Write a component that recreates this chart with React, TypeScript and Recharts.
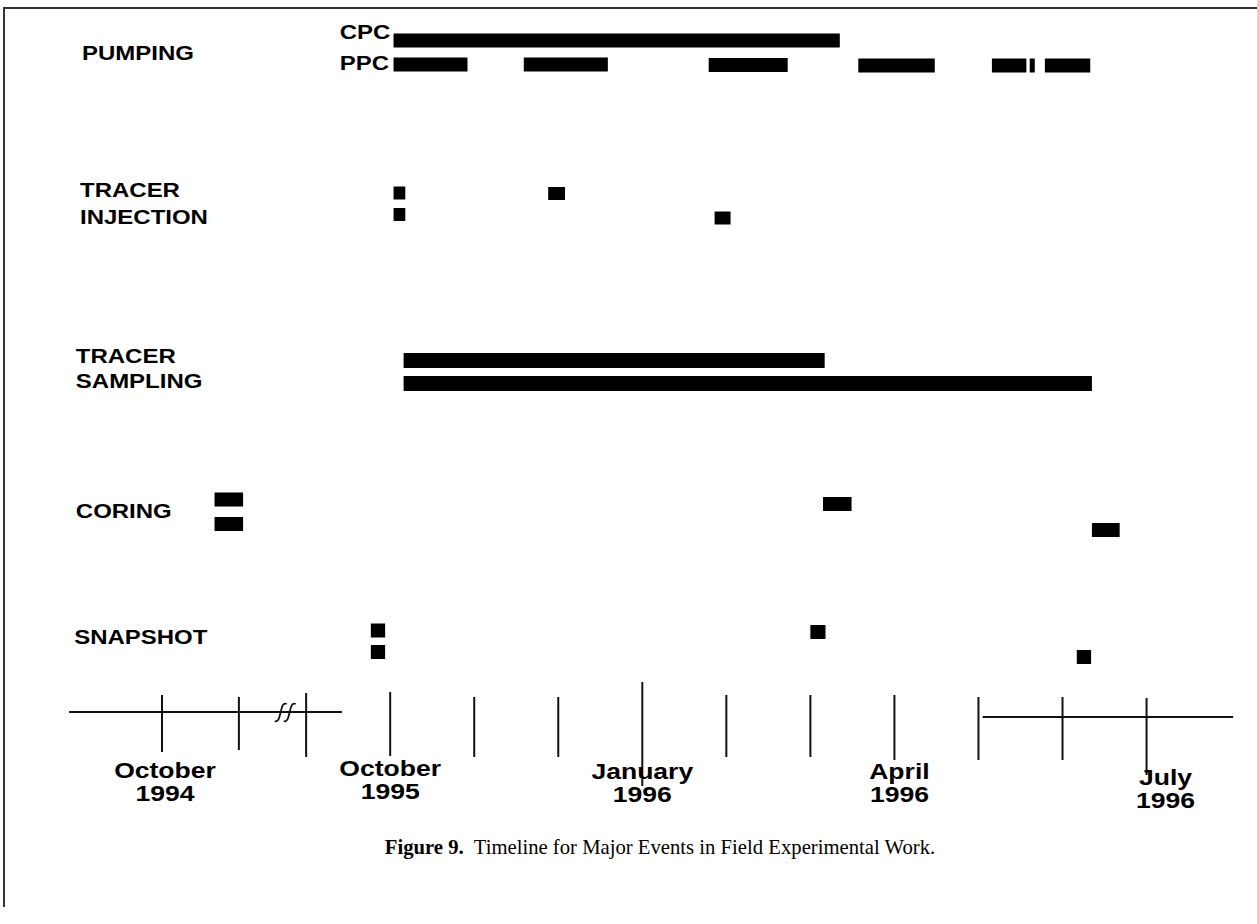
import React from 'react';
import { ScatterChart, Scatter, XAxis, YAxis, ReferenceDot } from 'recharts';

// Time unit: months after 1 October 1995 (the 1994 part sits left of an axis break)
const tickValues = [-2.715, -1.8, -1.0, 0, 1, 2, 3, 4, 5, 6, 7, 8, 9];
const tickLabels: string[][] = [
  ['October', '1994'], [], [], ['October', '1995'], [], [], ['January', '1996'], [], [], ['April', '1996'], [], [], ['July', '1996'],
];

// Each event: start month, end month, lane (vertical position, top = 0)
const pumpingCPC = [{ start: 0.04, end: 5.35, lane: 4.05 }];
const pumpingPPC = [
  { start: 0.04, end: 0.92, lane: 6.45 },
  { start: 1.59, end: 2.59, lane: 6.45 },
  { start: 3.79, end: 4.73, lane: 6.5 },
  { start: 5.57, end: 6.48, lane: 6.55 },
  { start: 7.16, end: 7.57, lane: 6.55 },
  { start: 7.61, end: 7.67, lane: 6.55 },
  { start: 7.79, end: 8.33, lane: 6.55 },
];
const tracerInjection = [
  { start: 0.04, end: 0.18, lane: 19.3 },
  { start: 1.88, end: 2.08, lane: 19.35 },
  { start: 0.04, end: 0.18, lane: 21.45 },
  { start: 3.86, end: 4.05, lane: 21.8 },
];
const tracerSampling = [
  { start: 0.16, end: 5.17, lane: 36.05 },
  { start: 0.16, end: 8.35, lane: 38.35 },
];
const coring = [
  { start: -2.09, end: -1.75, lane: 49.95 },
  { start: -2.09, end: -1.75, lane: 52.4 },
  { start: 5.15, end: 5.49, lane: 50.4 },
  { start: 8.35, end: 8.68, lane: 53.0 },
];
const snapshot = [
  { start: -0.23, end: -0.06, lane: 63.05 },
  { start: -0.23, end: -0.06, lane: 65.2 },
  { start: 5.0, end: 5.18, lane: 63.2 },
  { start: 8.17, end: 8.34, lane: 65.7 },
];
// axis baseline pieces
const axisPieces = [
  { start: -3.82, end: -0.575, lane: 71.2 },
  { start: 7.05, end: 10.03, lane: 71.7 },
];

const rowLabels = ['PUMPING', 'CPC', 'PPC', 'TRACER', 'INJECTION', 'TRACER', 'SAMPLING', 'CORING', 'SNAPSHOT'];
const rowLabelMonth = [-3.667, -0.6, -0.6, -3.69, -3.69, -3.74, -3.74, -3.74, -3.76];
const rowLabelLane = [5.3, 3.2, 6.3, 19.0, 21.7, 35.6, 38.1, 51.1, 63.7];

const W = 1257;
const H = 924;
const FONT = '"Liberation Sans", Arial, sans-serif';
const AXIS_SHIFT = 18; // axis drawn at lane 71.2 while plot bottom is lane 73
const tickUp = [17, 15, 19, 20, 15, 15, 30, 17, 17, 17, 15, 15, 14];
const tickDown = [40, 38, 45, 44, 45, 45, 74, 45, 45, 48, 48, 48, 63];
const labelDx = [3, 0, 0, 0, 0, 0, 0, 0, 0, 5, 0, 0, 19];
const labelDy = [58, 0, 0, 56, 0, 0, 59, 0, 0, 59, 0, 0, 65];

const Nothing = () => <g />;

function AxisTick(props: any) {
  const { x, y, payload } = props;
  const base = y - AXIS_SHIFT;
  const i = tickValues.indexOf(payload.value);
  const lbl = tickLabels[i] || [];
  return (
    <g>
      <line x1={x} x2={x} y1={base - tickUp[i]} y2={base + tickDown[i]} stroke="#111" strokeWidth={2} />
      {lbl.map((s, k) => (
        <text key={k} transform={`translate(${x + labelDx[i]},${base + labelDy[i] + k * 23.5}) scale(1.18,1)`}
          textAnchor="middle" dominantBaseline="central"
          fontFamily={FONT} fontWeight="bold" fontSize={22.5} fill="#000">{s}</text>
      ))}
    </g>
  );
}

function LabelShape(props: any) {
  const { cx, cy, payload } = props;
  return (
    <text transform={`translate(${cx},${cy}) scale(1.17,1)`} dominantBaseline="central"
      fontFamily={FONT} fontWeight="bold" fontSize={20.5} fill="#000">
      {payload.text}
    </text>
  );
}

function BreakShape(props: any) {
  const { cx, cy } = props;
  const s = (dx: number) => `M ${cx + dx - 6} ${cy + 9} C ${cx + dx - 2} ${cy + 11}, ${cx + dx - 1} ${cy + 4}, ${cx + dx} ${cy} S ${cx + dx + 2} ${cy - 10}, ${cx + dx + 6} ${cy - 8}`;
  return (
    <g fill="none" stroke="#111" strokeWidth={1.8}>
      <path d={s(-4)} />
      <path d={s(5)} />
    </g>
  );
}

const groups = [
  { items: pumpingCPC, thick: 14 },
  { items: pumpingPPC, thick: 14 },
  { items: tracerInjection, thick: 13 },
  { items: tracerSampling, thick: 15 },
  { items: coring, thick: 14 },
  { items: snapshot, thick: 14 },
  { items: axisPieces, thick: 2 },
];

export default function App() {
  const labelData = rowLabels.map((text, i) => ({ x: rowLabelMonth[i], y: rowLabelLane[i], text }));
  let key = 0;
  return (
    <div style={{ position: 'absolute', left: 0, top: 0, width: W, height: H, background: '#fff' }}>
      <div style={{ position: 'absolute', left: 3, top: 7, width: W - 3, height: 898, borderLeft: '2px solid #333', borderTop: '2px solid #333' }} />
      <ScatterChart width={W} height={H} margin={{ top: 0, right: 18, bottom: 164, left: 54 }}>
        <XAxis type="number" dataKey="x" domain={[-4, 10.1]} ticks={tickValues} interval={0} tick={<AxisTick />}
          tickLine={false} axisLine={false} tickSize={0} tickMargin={0} height={30} allowDataOverflow />
        <YAxis type="number" dataKey="y" domain={[0, 73]} reversed hide allowDataOverflow />
        {groups.flatMap((g) =>
          g.items.map((s) => (
            <Scatter key={key++} data={[{ x: s.start, y: s.lane }, { x: s.end, y: s.lane }]}
              line={{ stroke: g.thick > 2 ? '#000' : '#111', strokeWidth: g.thick }} shape={Nothing}
              isAnimationActive={false} legendType="none" />
          ))
        )}
        <Scatter data={labelData} shape={<LabelShape />} isAnimationActive={false} legendType="none" />
        <ReferenceDot x={-1.255} y={71.2} r={0} shape={<BreakShape />} />
      </ScatterChart>
      <div style={{ position: 'absolute', left: 0, top: 833, width: 1320, textAlign: 'center', fontFamily: '"Liberation Serif", "Times New Roman", serif', fontSize: 20.7, lineHeight: '28px', color: '#000' }}>
        <b>Figure 9.</b>&nbsp; Timeline for Major Events in Field Experimental Work.
      </div>
    </div>
  );
}
